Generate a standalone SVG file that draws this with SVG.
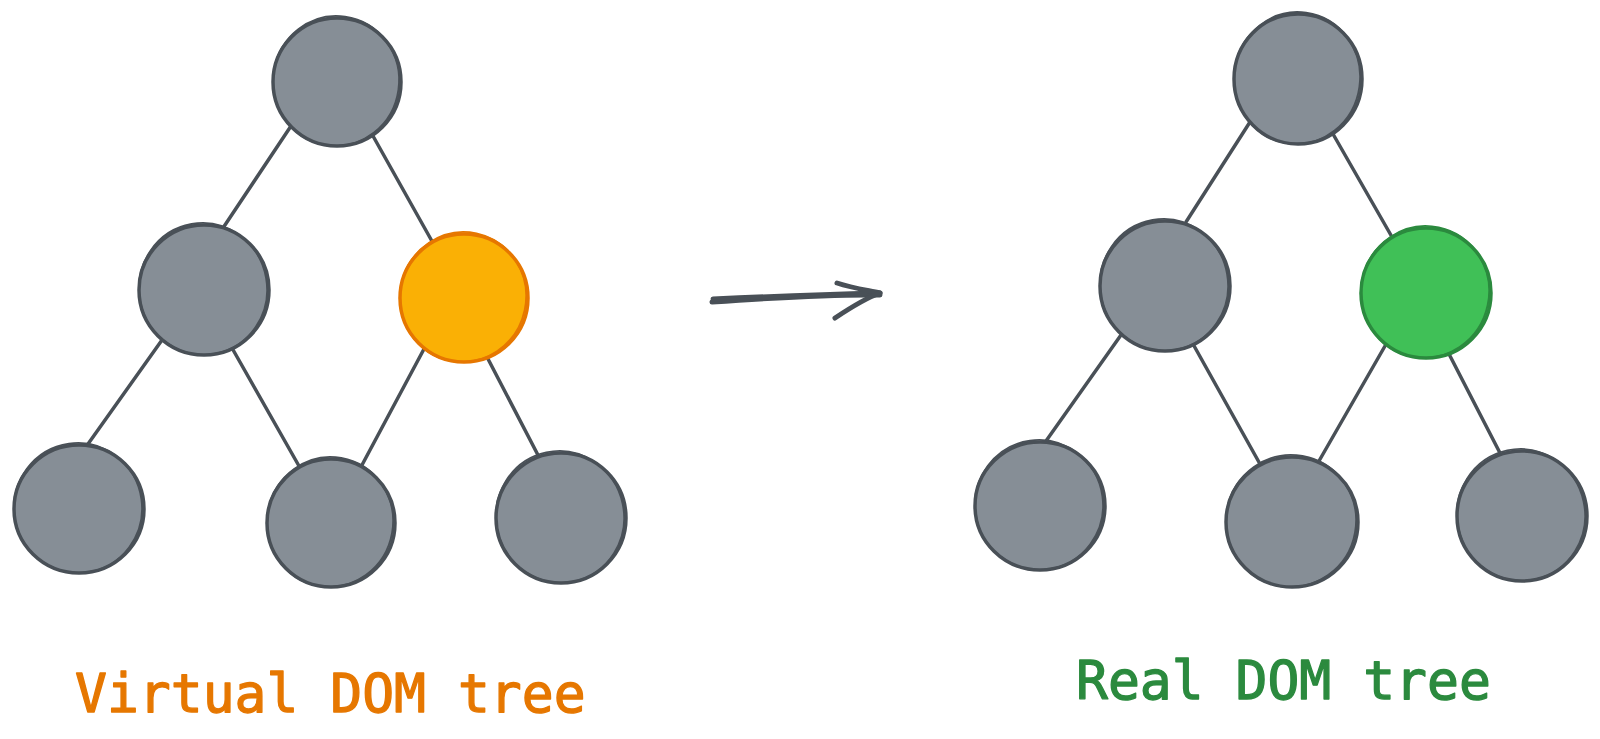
<svg xmlns="http://www.w3.org/2000/svg" width="1600" height="739" viewBox="0 0 1600 739">
<style>
.n{fill:#868e96;stroke:#495057;stroke-width:3.5}
.n2{fill:none;stroke:#495057;stroke-width:1.8}
.o{fill:#fab005;stroke:#e67700;stroke-width:3.5}
.o2{fill:none;stroke:#e67700;stroke-width:1.8}
.g{fill:#40c057;stroke:#2b8a3e;stroke-width:3.5}
.g2{fill:none;stroke:#2b8a3e;stroke-width:1.8}
.e{stroke:#495057;stroke-width:3.5;stroke-linecap:round;fill:none}
.a{stroke:#495057;stroke-width:5;stroke-linecap:round;fill:none}
.t{font-family:"DejaVu Sans Mono","Liberation Mono",monospace;font-size:53px;stroke-width:1.3;stroke-linejoin:round}
</style>
<rect width="1600" height="739" fill="#ffffff"/>
<g id="connectors">
<line class="e" x1="291" y1="126" x2="223" y2="228"/>
<line class="e" x1="373" y1="136" x2="433" y2="243"/>
<line class="e" x1="162" y1="340" x2="88" y2="444"/>
<line class="e" x1="232" y1="348" x2="299" y2="466"/>
<line class="e" x1="424" y1="349" x2="362" y2="465"/>
<line class="e" x1="487" y1="357" x2="539" y2="457"/>
<line class="e" x1="1250" y1="122" x2="1186" y2="222"/>
<line class="e" x1="1333" y1="134" x2="1392" y2="237"/>
<line class="e" x1="1121" y1="335" x2="1046" y2="441"/>
<line class="e" x1="1193" y1="344" x2="1260" y2="464"/>
<line class="e" x1="1385" y1="346" x2="1319" y2="461"/>
<line class="e" x1="1449" y1="354" x2="1500" y2="453"/>
<g id="arrow">
<path class="a" d="M712 302 C770 298 830 294 880 295"/>
<path class="a" d="M713 299 C780 296 840 294 879 293" stroke-width="3"/>
<path class="a" d="M837 283 C852 288 866 290 880 293"/>
<path class="a" d="M835 318 C850 308 866 298 880 293"/>
</g>
</g>
<g id="v-root"><ellipse class="n" cx="337" cy="82" rx="64" ry="64"/><ellipse class="n2" cx="336" cy="81" rx="63" ry="65" transform="rotate(8 336 81)"/></g>
<g id="v-left"><ellipse class="n" cx="204" cy="290" rx="65" ry="65"/><ellipse class="n2" cx="203" cy="289" rx="64" ry="66" transform="rotate(-10 203 289)"/></g>
<g id="v-changed"><ellipse class="o" cx="464" cy="298" rx="64" ry="64"/><ellipse class="o2" cx="463" cy="297" rx="63" ry="65" transform="rotate(12 463 297)"/></g>
<g id="v-bl"><ellipse class="n" cx="79" cy="509" rx="65" ry="64"/><ellipse class="n2" cx="78" cy="508" rx="64" ry="65" transform="rotate(-8 78 508)"/></g>
<g id="v-bm"><ellipse class="n" cx="331" cy="523" rx="64" ry="64"/><ellipse class="n2" cx="330" cy="522" rx="63" ry="65" transform="rotate(10 330 522)"/></g>
<g id="v-br"><ellipse class="n" cx="561" cy="518" rx="65" ry="65"/><ellipse class="n2" cx="560" cy="517" rx="64" ry="66" transform="rotate(-12 560 517)"/></g>
<g id="r-root"><ellipse class="n" cx="1298" cy="79" rx="64" ry="65"/><ellipse class="n2" cx="1297" cy="78" rx="63" ry="66" transform="rotate(8 1297 78)"/></g>
<g id="r-left"><ellipse class="n" cx="1165" cy="286" rx="65" ry="65"/><ellipse class="n2" cx="1164" cy="285" rx="64" ry="66" transform="rotate(-10 1164 285)"/></g>
<g id="r-changed"><ellipse class="g" cx="1426" cy="293" rx="65" ry="65"/><ellipse class="g2" cx="1425" cy="292" rx="64" ry="66" transform="rotate(12 1425 292)"/></g>
<g id="r-bl"><ellipse class="n" cx="1040" cy="506" rx="65" ry="64"/><ellipse class="n2" cx="1039" cy="505" rx="64" ry="65" transform="rotate(-8 1039 505)"/></g>
<g id="r-bm"><ellipse class="n" cx="1292" cy="522" rx="66" ry="65"/><ellipse class="n2" cx="1291" cy="521" rx="65" ry="66" transform="rotate(10 1291 521)"/></g>
<g id="r-br"><ellipse class="n" cx="1522" cy="516" rx="65" ry="65"/><ellipse class="n2" cx="1521" cy="515" rx="64" ry="66" transform="rotate(-12 1521 515)"/></g>
<g id="labels">
<text class="t" x="75" y="712" fill="#e67700" stroke="#e67700">Virtual DOM tree</text>
<text class="t" x="1076" y="699" fill="#2b8a3e" stroke="#2b8a3e">Real DOM tree</text>
</g>
</svg>
